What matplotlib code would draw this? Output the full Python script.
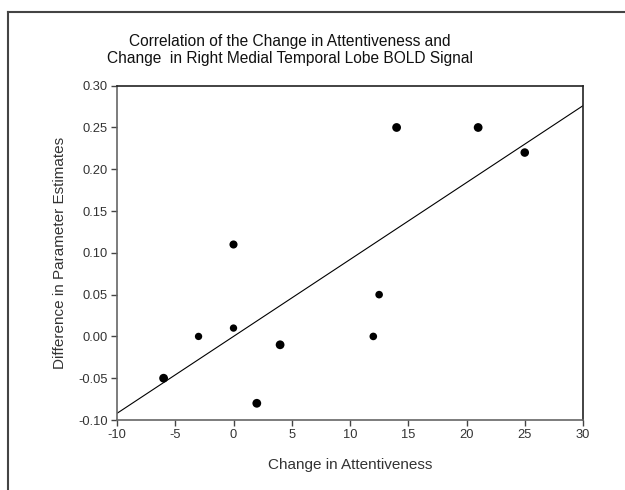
import numpy as np
import matplotlib
matplotlib.use("Agg")
import matplotlib.pyplot as plt
from matplotlib.lines import Line2D

attentiveness = [-6, -3, 0, 0, 2, 4, 12, 12.5, 14, 21, 25]
param_diff = [-0.05, 0.0, 0.01, 0.11, -0.08, -0.01, 0.0, 0.05, 0.25, 0.25, 0.22]
marker_sizes = [40, 28, 28, 34, 40, 40, 30, 30, 40, 40, 38]
x_ticks = [-10, -5, 0, 5, 10, 15, 20, 25, 30]
y_ticks = [-0.10, -0.05, 0.00, 0.05, 0.10, 0.15, 0.20, 0.25, 0.30]

plt.rcParams['font.family'] = ['Liberation Sans', 'DejaVu Sans']

fig = plt.figure(figsize=(6.25, 4.9), dpi=100)
ax = fig.add_axes([117/625, 1-420/490, (583-117)/625, (420-85.7)/490])

ax.scatter(attentiveness, param_diff, s=marker_sizes, color='black', zorder=3, linewidths=0)

slope, intercept = np.polyfit(attentiveness, param_diff, 1)
xl = np.array([x_ticks[0], x_ticks[-1]])
ax.plot(xl, slope * xl + intercept, color='black', lw=0.8)

ax.set_xlim(x_ticks[0], x_ticks[-1])
ax.set_ylim(y_ticks[0], y_ticks[-1])
ax.set_xticks(x_ticks)
ax.set_xticklabels([f"{v:g}" for v in x_ticks])
ax.set_yticks(y_ticks)
ax.set_yticklabels([f"{v:.2f}" for v in y_ticks])
ax.tick_params(direction='out', length=4, width=1, labelsize=9.3, colors='#444444', labelcolor='#333333', pad=2.5)

for s in ['left', 'bottom']:
    ax.spines[s].set_color('#666666')
    ax.spines[s].set_linewidth(1.2)
for s in ['top', 'right']:
    ax.spines[s].set_color('#222222')
    ax.spines[s].set_linewidth(1.2)

ax.set_xlabel('Change in Attentiveness', fontsize=11, color='#333333', labelpad=12)
ax.set_ylabel('Difference in Parameter Estimates', fontsize=11, color='#333333', labelpad=8)

fig.text(290/625, 1-50/490, 'Correlation of the Change in Attentiveness and\nChange  in Right Medial Temporal Lobe BOLD Signal',
         ha='center', va='center', fontsize=11.2, color='#111111', linespacing=1.2)

fig.add_artist(Line2D([7.5/625, 7.5/625], [0, 1-12/490], transform=fig.transFigure, color='#444444', lw=1.5))
fig.add_artist(Line2D([7.5/625, 1], [1-12/490, 1-12/490], transform=fig.transFigure, color='#444444', lw=1.5))

fig.savefig('out.png', dpi=100)
